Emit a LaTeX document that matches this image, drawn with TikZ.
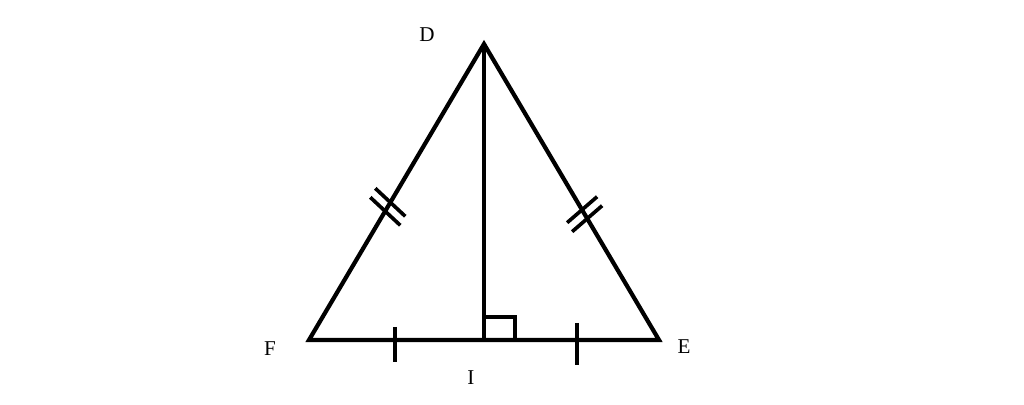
\documentclass[tikz,border=0pt]{standalone}
\usepackage{fontspec}
\setmainfont{Liberation Serif}
\usetikzlibrary{calc, positioning}

\begin{document}
\begin{tikzpicture}[x=0.025cm, y=-0.025cm,
            side/.style={line width=3pt, line join=miter},
            tickmark/.style={line width=2.6pt},
            vlabel/.style={font=\fontsize{15}{18}\selectfont, inner sep=0pt}]

            \useasboundingbox (0,0) rectangle (1024,405);

            % Vertices of the triangle
            \coordinate (D) at (484,44);
            \coordinate (F) at (309,340);
            \coordinate (E) at (659,340);
            \coordinate (I) at (484,340);

            % Labels next to the vertices
            \node[vlabel] (lD) at (427,35) {D};
            \node[vlabel] (lF) at (270,349) {F};
            \node[vlabel] (lE) at (684,347) {E};
            \node[vlabel] (lI) at (471,378) {I};

            % Triangle and altitude
            \draw[side] (F) -- (D) -- (E) -- cycle;
            \draw[side] (D) -- (I);

            % Right angle mark at I
            \draw[tickmark] (I) ++(0,-23) -- ++(31,0) -- ++(0,23);

            % Single ticks on FI and IE
            \coordinate (mFI) at ($(F)!0.49!(I)$);
            \coordinate (mIE) at ($(I)!0.53!(E)$);
            \draw[tickmark] (mFI) ++(0,-13) -- ++(0,35);
            \draw[tickmark] (mIE) ++(0,-17) -- ++(0,42);

            % Double ticks on DF and DE
            \coordinate (mDF) at ($(F)!0.45!(D)$);
            \coordinate (mDE) at ($(E)!0.425!(D)$);
            \draw[tickmark] (mDF) ++(-2.5,4.5) ++(-15,-14) -- ++(30,28);
            \draw[tickmark] (mDF) ++(2.5,-4.5) ++(-15,-14) -- ++(30,28);
            \draw[tickmark] (mDE) ++(2.5,4.5) ++(-15,13) -- ++(30,-26);
            \draw[tickmark] (mDE) ++(-2.5,-4.5) ++(-15,13) -- ++(30,-26);
        \end{tikzpicture}
\end{document}
